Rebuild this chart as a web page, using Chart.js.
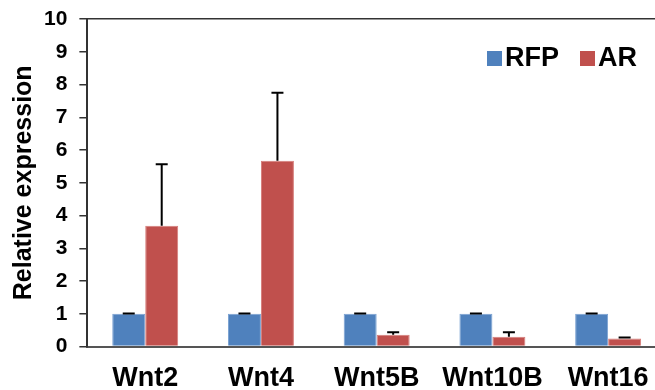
<!DOCTYPE html>
<html>
<head>
<meta charset="utf-8">
<script src="https://cdn.jsdelivr.net/npm/chart.js@4"></script>
<style>
  html, body { margin: 0; padding: 0; background: #fff; overflow: hidden; }
  #wrap { width: 668px; height: 390px; }
</style>
</head>
<body>
<div id="wrap"><canvas id="chart"></canvas></div>
<script>
// values
const genes    = ['Wnt2', 'Wnt4', 'Wnt5B', 'Wnt10B', 'Wnt16'];
const rfpMean  = [1, 1, 1, 1, 1];
const rfpErr   = [0.01, 0.01, 0.01, 0.01, 0.01];
const arMean   = [3.69, 5.67, 0.36, 0.30, 0.25];
const arErr    = [1.88, 2.08, 0.08, 0.14, 0.03];
const yTicks   = [0, 1, 2, 3, 4, 5, 6, 7, 8, 9, 10];

const FONT = 'Liberation Sans, Arial, sans-serif';

// upper half of each error bar, with a cap
const errorBars = {
  id: 'errorBars',
  afterDatasetsDraw(chart) {
    const { ctx } = chart;
    const y = chart.scales.y;
    ctx.save();
    ctx.strokeStyle = '#000';
    ctx.lineWidth = 2;
    chart.data.datasets.forEach((ds, di) => {
      chart.getDatasetMeta(di).data.forEach((bar, i) => {
        const top  = y.getPixelForValue(ds.data[i] + ds.err[i]);
        const base = y.getPixelForValue(ds.data[i]);
        ctx.beginPath();
        ctx.moveTo(bar.x, base);
        ctx.lineTo(bar.x, top);
        ctx.moveTo(bar.x - 6, top);
        ctx.lineTo(bar.x + 6, top);
        ctx.stroke();
      });
    });
    ctx.restore();
  }
};

// legend sits inside the plot, top right
const insideLegend = {
  id: 'insideLegend',
  afterDraw(chart) {
    const { ctx } = chart;
    const xs = [487, 580];
    const cy = 58;
    ctx.save();
    ctx.font = 'bold 27px ' + FONT;
    ctx.textBaseline = 'middle';
    chart.data.datasets.forEach((ds, i) => {
      ctx.fillStyle = ds.backgroundColor;
      ctx.fillRect(xs[i], cy - 7, 15, 15);
      ctx.fillStyle = '#000';
      ctx.fillText(ds.label, xs[i] + 18, cy + 1);
    });
    ctx.restore();
  }
};

new Chart(document.getElementById('chart'), {
  type: 'bar',
  data: {
    labels: genes,
    datasets: [
      { label: 'RFP', data: rfpMean, err: rfpErr, backgroundColor: '#4f81bd', borderColor: '#7aa1d2', borderWidth: 1 },
      { label: 'AR',  data: arMean,  err: arErr,  backgroundColor: '#c0504d', borderColor: '#d67d7a', borderWidth: 1 },
    ],
  },
  options: {
    responsive: true,
    maintainAspectRatio: false,
    animation: false,
    layout: { padding: { top: 19, left: 0, right: 2, bottom: -21 } },
    categoryPercentage: 0.57,
    barPercentage: 1.0,
    plugins: {
      legend: { display: false },
      tooltip: { enabled: false },
    },
    scales: {
      x: {
        grid: { display: false, drawTicks: false },
        border: { color: '#555', width: 2 },
        ticks: {
          color: '#000',
          padding: 16,
          font: { family: FONT, size: 27, weight: 'bold' },
        },
      },
      y: {
        min: 0,
        max: 10,
        afterBuildTicks: axis => { axis.ticks = yTicks.map(v => ({ value: v })); },
        grid: {
          drawOnChartArea: true,
          color: c => (c.tick && c.tick.value === 10 ? '#333' : 'rgba(0,0,0,0)'),
          tickColor: '#333',
          tickLength: 8,
          lineWidth: 1.5,
        },
        border: { color: '#333', width: 2 },
        ticks: {
          color: '#000',
          padding: 12,
          font: { family: FONT, size: 21, weight: 'bold', lineHeight: 0.6 },
        },
        title: {
          display: true,
          text: 'Relative expression',
          color: '#000',
          padding: { top: 9, bottom: -7 },
          font: { family: FONT, size: 25, weight: 'bold' },
        },
      },
    },
  },
  plugins: [errorBars, insideLegend],
});
</script>
</body>
</html>
